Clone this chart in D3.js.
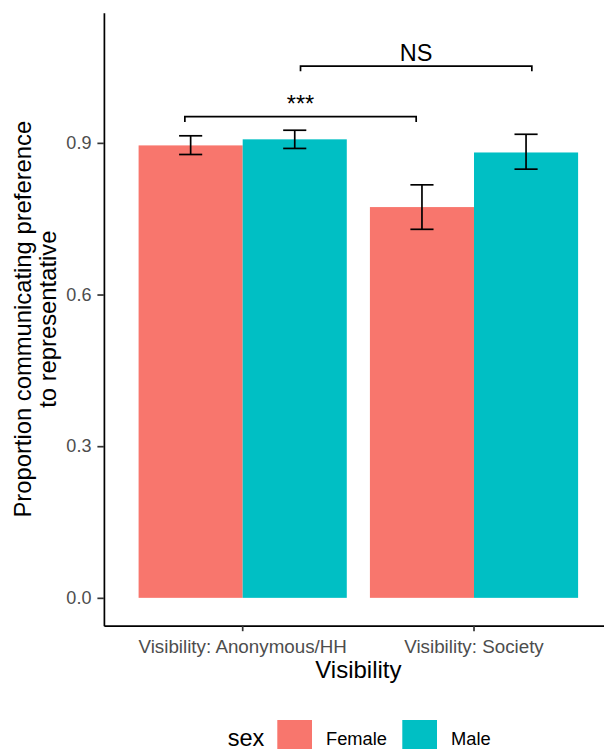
<!DOCTYPE html>
<html>
<head>
<meta charset="utf-8">
<script src="https://cdn.jsdelivr.net/npm/d3@7"></script>
<style>
  html, body { margin: 0; padding: 0; background: #fff; }
  svg { display: block; font-family: "Liberation Sans", Arial, sans-serif; }
</style>
</head>
<body>
<svg id="chart" width="604" height="749"></svg>
<script>
// Proportion communicating preference, by visibility condition and sex
const categories = ["Visibility: Anonymous/HH", "Visibility: Society"];
const sexes = ["Female", "Male"];
const sexColors = ["#F8766D", "#00BFC4"];

const femaleProp = [0.895, 0.773];
const maleProp   = [0.907, 0.881];
const femaleLow  = [0.877, 0.729];
const femaleHigh = [0.914, 0.817];
const maleLow    = [0.889, 0.848];
const maleHigh   = [0.925, 0.917];

const yTicks = [0, 0.3, 0.6, 0.9];

// significance brackets, in category-index units (1 = first category)
const bracketFrom   = [0.75, 1.25];
const bracketTo     = [1.75, 2.25];
const bracketY      = [0.952, 1.052];
const bracketLabels = ["***", "NS"];
const tipLength = 0.0105;

const FONT = "'Liberation Sans', Arial, sans-serif";
const svg = d3.select("#chart");

const panel = { left: 103.9, right: 612.8, top: 12.7, bottom: 625.7 };

const x = d3.scaleBand()
  .domain(categories)
  .range([panel.left, panel.right])
  .paddingInner(0.1)
  .paddingOuter(0.15);

const xSex = d3.scaleBand()
  .domain(sexes)
  .range([0, x.bandwidth()]);

// index -> pixel (continuous position along the discrete axis)
const xIndex = d3.scaleLinear()
  .domain([1, 2])
  .range([x(categories[0]) + x.bandwidth() / 2, x(categories[1]) + x.bandwidth() / 2]);

const y = d3.scaleLinear()
  .domain([-0.0551, 1.1575])
  .range([panel.bottom, panel.top]);

const color = d3.scaleOrdinal().domain(sexes).range(sexColors);

const rows = [];
categories.forEach((c, i) => {
  rows.push({ cat: c, sex: "Female", value: femaleProp[i], lo: femaleLow[i], hi: femaleHigh[i] });
  rows.push({ cat: c, sex: "Male", value: maleProp[i], lo: maleLow[i], hi: maleHigh[i] });
});

// bars
svg.append("g").selectAll("rect")
  .data(rows)
  .join("rect")
  .attr("x", d => x(d.cat) + xSex(d.sex))
  .attr("y", d => y(d.value))
  .attr("width", xSex.bandwidth())
  .attr("height", d => y(0) - y(d.value))
  .attr("fill", d => color(d.sex));

// error bars
const capHalf = x.step() * 0.05;
const eb = svg.append("g")
  .attr("stroke", "#000")
  .attr("stroke-width", 1.7)
  .attr("fill", "none");
rows.forEach(d => {
  const cx = x(d.cat) + xSex(d.sex) + xSex.bandwidth() / 2;
  eb.append("line").attr("x1", cx).attr("x2", cx).attr("y1", y(d.lo)).attr("y2", y(d.hi));
  eb.append("line").attr("x1", cx - capHalf).attr("x2", cx + capHalf).attr("y1", y(d.lo)).attr("y2", y(d.lo));
  eb.append("line").attr("x1", cx - capHalf).attr("x2", cx + capHalf).attr("y1", y(d.hi)).attr("y2", y(d.hi));
});

// significance brackets
const br = svg.append("g");
bracketLabels.forEach((lab, i) => {
  const x1 = xIndex(bracketFrom[i]), x2 = xIndex(bracketTo[i]);
  const yt = y(bracketY[i]), yb = y(bracketY[i] - tipLength);
  br.append("path")
    .attr("d", `M${x1},${yb}L${x1},${yt}L${x2},${yt}L${x2},${yb}`)
    .attr("fill", "none")
    .attr("stroke", "#000")
    .attr("stroke-width", 1.7);
  br.append("text")
    .attr("x", (x1 + x2) / 2)
    .attr("y", yt - 5)
    .attr("text-anchor", "middle")
    .attr("font-size", 23.5)
    .attr("fill", "#000")
    .text(lab);
});

// y axis
const yAxis = svg.append("g")
  .attr("transform", `translate(${panel.left},0)`)
  .call(d3.axisLeft(y).tickValues(yTicks).tickFormat(d3.format(".1f"))
    .tickSizeInner(6.5).tickSizeOuter(0).tickPadding(6));
yAxis.select(".domain").attr("stroke", "#000").attr("stroke-width", 1.7);
yAxis.selectAll(".tick line").attr("stroke", "#333").attr("stroke-width", 1.7);
yAxis.selectAll(".tick text")
  .attr("fill", "#4D4D4D")
  .attr("font-size", 18)
  .attr("font-family", FONT);

// x axis
const xAxis = svg.append("g")
  .attr("transform", `translate(0,${panel.bottom})`)
  .call(d3.axisBottom(x).tickSizeInner(5.5).tickSizeOuter(0).tickPadding(8));
xAxis.select(".domain").attr("stroke", "#000").attr("stroke-width", 1.7);
xAxis.selectAll(".tick line").attr("stroke", "#333").attr("stroke-width", 1.7);
xAxis.selectAll(".tick text")
  .attr("fill", "#4D4D4D")
  .attr("font-size", 18.8)
  .attr("font-family", FONT);

// axis titles
const midX = (panel.left + panel.right) / 2;
svg.append("text")
  .attr("x", midX)
  .attr("y", 677.7)
  .attr("text-anchor", "middle")
  .attr("font-size", 24)
  .attr("fill", "#000")
  .text("Visibility");

const midY = (panel.top + panel.bottom) / 2;
const yTitle = svg.append("text")
  .attr("transform", `translate(0,${midY}) rotate(-90)`)
  .attr("text-anchor", "middle")
  .attr("font-size", 23.8)
  .attr("fill", "#000");
yTitle.append("tspan").attr("x", 0).attr("y", 31).text("Proportion communicating preference");
yTitle.append("tspan").attr("x", 0).attr("y", 56).text("to representative");

// legend
const legend = svg.append("g");
legend.append("text")
  .attr("x", 227.7)
  .attr("y", 745.5)
  .attr("font-size", 23.5)
  .attr("fill", "#000")
  .text("sex");
const legendX = [277.3, 402.3];
sexes.forEach((s, i) => {
  legend.append("rect")
    .attr("x", legendX[i])
    .attr("y", 720)
    .attr("width", 34.7)
    .attr("height", 34.7)
    .attr("fill", color(s));
  legend.append("text")
    .attr("x", legendX[i] + 48.7)
    .attr("y", 744.5)
    .attr("font-size", 18.3)
    .attr("fill", "#000")
    .text(s);
});
</script>
</body>
</html>
